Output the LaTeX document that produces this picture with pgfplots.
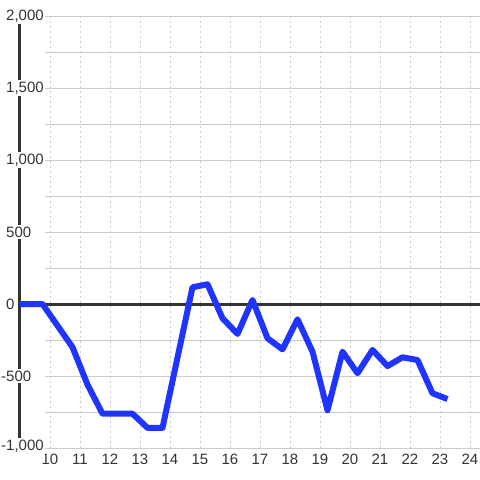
\documentclass[border=0pt]{standalone}
\usepackage{fontspec}
\setmainfont{Liberation Sans}
\usepackage{pgfplots}
\pgfplotsset{compat=1.18}
\definecolor{lineblue}{RGB}{32,52,255}
\definecolor{txt}{RGB}{51,51,51}
\definecolor{gridc}{RGB}{204,204,204}
\definecolor{axc}{RGB}{51,51,51}
\newcommand\tfont{\fontsize{15}{18}\selectfont}
\begin{document}
\begin{tikzpicture}
\begin{axis}[
 name=ax, at={(0,0)}, anchor=south west,
 scale only axis, width=460pt, height=432pt,
 xmin=9, xmax=24.3333, ymin=-1000, ymax=2000,
 axis y line*=left, axis x line*=bottom,
 x axis line style={draw=none},
 y axis line style={draw=axc, line width=3pt, -},
 major tick length=0pt,
 xtick={10,...,24},
 ytick={-1000,-500,0,500,1000,1500,2000},
 yticklabels={{\raisebox{6pt}{\llap{-}1,000}},{\llap{-}500},{0},{500},{1,000},{1,500},{2,000}},
 xmajorgrids, x grid style={gridc, dash pattern=on 2pt off 3pt, line width=0.8pt},
 /pgf/number format/assume math mode=true,
 yticklabel style={font=\tfont, text=txt, anchor=west, xshift=-15.5pt, fill=white, inner sep=1.5pt},
 xticklabel style={font=\tfont, text=txt, yshift=-2.5pt},
 clip=false,
]
\pgfplotsinvokeforeach{-1000,-750,-500,-250,250,500,750,1000,1250,1500,1750,2000}{
  \draw[gridc, line width=1pt] (axis cs:9.84,#1) -- (axis cs:24.3333,#1);
}
\draw[axc, line width=3pt] (axis cs:9,0) -- (axis cs:24.3333,0);
\addplot[lineblue, line width=6pt, line join=round] coordinates {
(9,0) (9.75,0) (10.75,-300) (11.25,-560) (11.75,-762) (12.75,-762)
(13.25,-860) (13.75,-860) (14.75,116) (15.25,137) (15.75,-99) (16.25,-208)
(16.75,28) (17.25,-238) (17.75,-315) (18.25,-106) (18.75,-331) (19.25,-738)
(19.75,-331) (20.25,-481) (20.75,-319) (21.25,-431) (21.75,-370) (22.25,-389)
(22.75,-620) (23.25,-660)
};
\end{axis}
\pgfresetboundingbox
\path[use as bounding box] (-20pt,-32pt) rectangle (460pt,448pt);
\end{tikzpicture}
\end{document}
